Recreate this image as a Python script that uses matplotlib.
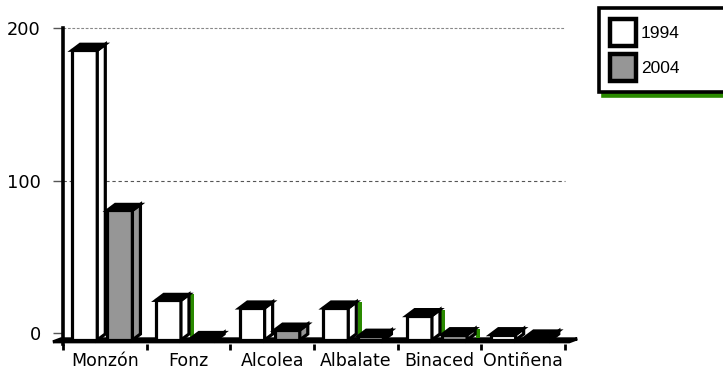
import matplotlib
matplotlib.use("Agg")
import matplotlib.pyplot as plt
from matplotlib.patches import Polygon, Rectangle, Patch

categories = ["Monzón", "Fonz", "Alcolea", "Albalate", "Binaced", "Ontiñena"]
series_names = ["1994", "2004"]
values_1994 = [190, 26, 21, 21, 16, 3.5]
values_2004 = [85, 1, 6.5, 2.5, 3.5, 2]
y_ticks = [0, 100, 200]

W, H, DPI = 723, 372, 100
fig = plt.figure(figsize=(W / DPI, H / DPI), dpi=DPI)
fig.patch.set_facecolor("white")

ax_left, ax_right, ax_top, ax_bottom = 63, 565, 28, 344
ax = fig.add_axes([ax_left / W, 1 - ax_bottom / H, (ax_right - ax_left) / W, (ax_bottom - ax_top) / H])
ax.set_facecolor("white")

px_per_unit = (333 - 28) / 200.0
ymin = -(ax_bottom - 333) / px_per_unit
ax.set_xlim(0, len(categories))
ax.set_ylim(ymin, 200)

GRAY = "#969696"
GREEN = "#2a8a00"
xunit = (ax_right - ax_left) / len(categories)
dx = 8 / xunit          # depth shift (x)
dy = 6 / px_per_unit    # depth shift (y)
zf = -(340 - 333) / px_per_unit  # front plane base
bar_w = 0.30
offsets = [0.11, 0.53]
face_colors = ["white", GRAY]
EDGE_LW = 2.3

# gridlines on back wall
ax.axhline(y_ticks[2], color="#888888", lw=0.8, ls=(0, (2.5, 1.5)), zorder=1, clip_on=False)
ax.axhline(y_ticks[1], color="#555555", lw=0.8, ls=(0, (3, 2.5)), zorder=1, clip_on=False)

# floor
n = len(categories)
floor = Polygon([(-10 / xunit, zf - 1.2), (n + 0.05, zf - 1.2), (n + 0.05 + dx, zf - 1.2 + dy * 0.5),
                 (-10 / xunit + dx, zf - 1.2 + dy * 0.5)], closed=True,
                facecolor=GRAY, edgecolor="black", lw=2.2, zorder=2, clip_on=False, joinstyle="miter")
ax.add_patch(floor)

green_marks = {(1, 0), (3, 0), (4, 0), (4, 1)}

for k, vals in enumerate([values_1994, values_2004]):
    xs = [i + offsets[k] for i in range(n)]
    bars = ax.bar(xs, vals, width=bar_w, bottom=zf, align="edge",
                  color=face_colors[k], edgecolor="black", lw=EDGE_LW, zorder=5 + k,
                  label=series_names[k])
    for i, rect in enumerate(bars):
        x0 = rect.get_x()
        w = rect.get_width()
        y0 = rect.get_y()
        y1 = y0 + rect.get_height()
        top = Polygon([(x0, y1), (x0 + w, y1), (x0 + w + dx, y1 + dy), (x0 + dx, y1 + dy)],
                      closed=True, facecolor="black", edgecolor="black", lw=EDGE_LW,
                      zorder=5 + k, joinstyle="miter")
        side = Polygon([(x0 + w, y0), (x0 + w + dx, y0 + dy), (x0 + w + dx, y1 + dy), (x0 + w, y1)],
                       closed=True, facecolor=face_colors[k], edgecolor="black", lw=EDGE_LW,
                       zorder=5 + k, joinstyle="miter")
        ax.add_patch(side)
        ax.add_patch(top)
        if (i, k) in green_marks:
            g = Rectangle((x0 + w + dx + 1.2 / xunit, y0 + dy * 0.3), 4 / xunit, rect.get_height() + dy * 0.7,
                          facecolor=GREEN, edgecolor="none", zorder=4)
            ax.add_patch(g)

# axes styling
for s in ["top", "right", "bottom"]:
    ax.spines[s].set_visible(False)
ax.spines["left"].set_linewidth(2.6)
ax.spines["left"].set_zorder(8)

ax.set_yticks(y_ticks)
ax.set_yticklabels([str(t) for t in y_ticks])
ax.tick_params(axis="y", length=7, width=1, color="#555555", pad=9, labelsize=12.8)

ax.set_xticks(range(n + 1))
ax.set_xticklabels([""] * (n + 1))
ax.set_xticks([i + 0.5 for i in range(n)], minor=True)
ax.set_xticklabels(categories, minor=True)
ax.tick_params(axis="x", which="major", length=4, width=2, color="black", direction="out")
ax.tick_params(axis="x", which="minor", length=0, pad=6, labelsize=12.5)

# legend
handles = [Patch(facecolor=face_colors[k], edgecolor="black", lw=3.2, label=series_names[k]) for k in range(2)]
leg = fig.legend(handles=handles, loc="upper left",
                 bbox_to_anchor=(599 / W, 1 - 92 / H, 135 / W, 84 / H), mode="expand",
                 borderaxespad=0,
                 frameon=True, fancybox=False, borderpad=0.62, handlelength=1.5, handleheight=2.0,
                 handletextpad=0.3, labelspacing=0.5,
                 prop={"family": ["Liberation Sans Narrow", "Liberation Sans"], "size": 12.5},
                 shadow={"ox": 3, "oy": -3, "facecolor": GREEN, "edgecolor": GREEN, "alpha": 1})
frame = leg.get_frame()
frame.set_edgecolor("black")
frame.set_linewidth(2.6)
for t in leg.get_texts():
    t.set_color("black")

fig.savefig("out.png", dpi=DPI, facecolor="white")
